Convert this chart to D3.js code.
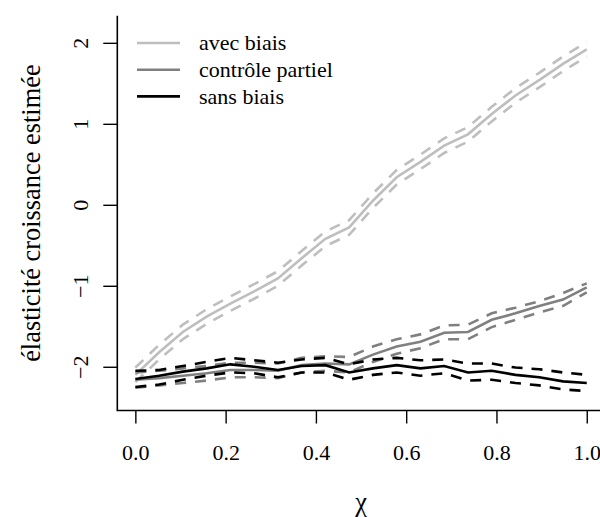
<!DOCTYPE html>
<html>
<head>
<meta charset="utf-8">
<script src="https://cdn.jsdelivr.net/npm/d3@7"></script>
<style>
  body { margin: 0; background: #fff; }
</style>
</head>
<body>
<svg id="chart"></svg>
<script>
// Points along chi (20 steps from 0 to 1)
var chi = d3.range(20).map(function (k) { return k / 19; });

// Estimated elasticity, each with lower / upper band
var avecBiais      = [-2.10, -1.82, -1.57, -1.38, -1.22, -1.07, -0.91, -0.66, -0.42, -0.28, 0.05, 0.34, 0.53, 0.73, 0.87, 1.12, 1.35, 1.54, 1.74, 1.92];
var avecBiaisHaut  = [-2.01, -1.73, -1.48, -1.29, -1.13, -0.98, -0.82, -0.57, -0.33, -0.19, 0.14, 0.43, 0.62, 0.82, 0.96, 1.21, 1.44, 1.63, 1.83, 2.01];
var avecBiaisBas   = [-2.19, -1.91, -1.66, -1.47, -1.31, -1.16, -1.00, -0.75, -0.51, -0.37, -0.04, 0.25, 0.44, 0.64, 0.78, 1.03, 1.26, 1.45, 1.65, 1.83];

var partiel        = [-2.16, -2.14, -2.11, -2.08, -2.04, -2.04, -2.05, -1.98, -1.96, -1.97, -1.85, -1.75, -1.69, -1.58, -1.57, -1.42, -1.34, -1.25, -1.17, -1.02];
var partielHaut    = [-2.07, -2.05, -2.02, -1.99, -1.95, -1.95, -1.96, -1.89, -1.87, -1.88, -1.75, -1.66, -1.60, -1.49, -1.48, -1.34, -1.27, -1.19, -1.09, -0.97];
var partielBas     = [-2.26, -2.23, -2.20, -2.17, -2.13, -2.13, -2.14, -2.07, -2.05, -2.07, -1.94, -1.84, -1.77, -1.66, -1.66, -1.51, -1.42, -1.33, -1.25, -1.08];

var sansBiais      = [-2.15, -2.11, -2.06, -2.02, -1.97, -2.00, -2.04, -1.99, -1.98, -2.07, -2.02, -1.98, -2.02, -1.99, -2.07, -2.05, -2.10, -2.13, -2.18, -2.20];
var sansBiaisHaut  = [-2.05, -2.04, -1.99, -1.94, -1.89, -1.92, -1.95, -1.91, -1.89, -1.97, -1.91, -1.89, -1.92, -1.91, -1.96, -1.96, -2.01, -2.03, -2.07, -2.10];
var sansBiaisBas   = [-2.25, -2.22, -2.16, -2.11, -2.07, -2.08, -2.13, -2.07, -2.07, -2.16, -2.10, -2.07, -2.11, -2.08, -2.17, -2.16, -2.20, -2.23, -2.28, -2.30];

var legendLabels = ["avec biais", "contrôle partiel", "sans biais"];
var couleurs = ["#bebebe", "#808080", "#000000"];
var xTicks = [0, 0.2, 0.4, 0.6, 0.8, 1.0];
var yTicks = [-2, -1, 0, 1, 2];

var width = 600, height = 517;
var serif = "Liberation Serif";

var svg = d3.select("#chart")
  .attr("width", width)
  .attr("height", height);

var x = d3.scaleLinear().domain([-0.04, 1.04]).range([117.3, 604.8]);
var y = d3.scaleLinear().domain([-2.54, 2.335]).range([410.5, 15.7]);

// L-shaped box
svg.append("path")
  .attr("d", "M" + x(-0.04) + "," + y(2.335) + "V" + y(-2.54) + "H" + width)
  .attr("fill", "none")
  .attr("stroke", "#000")
  .attr("stroke-width", 1.6);

// Axes
var xAxis = svg.append("g")
  .attr("transform", "translate(0," + y(-2.54) + ")")
  .call(d3.axisBottom(x).tickValues(xTicks).tickSize(13).tickFormat(d3.format(".1f")))
  .attr("font-family", serif)
  .attr("font-size", 22);
xAxis.select(".domain").remove();
xAxis.selectAll("line").attr("stroke-width", 1.4);
xAxis.selectAll("text")
  .attr("y", 49)
  .attr("dy", 0);

var yAxis = svg.append("g")
  .attr("transform", "translate(" + x(-0.04) + ",0)")
  .call(d3.axisLeft(y).tickValues(yTicks).tickSize(14).tickFormat(function (d) { return d < 0 ? "\u2212" + (-d) : String(d); }))
  .attr("font-family", serif)
  .attr("font-size", 22);
yAxis.select(".domain").remove();
yAxis.selectAll("line").attr("stroke-width", 1.4);
yAxis.selectAll("text")
  .attr("transform", "rotate(-90)")
  .attr("x", 0)
  .attr("y", -29)
  .attr("dy", 0)
  .attr("text-anchor", "middle");

// Axis titles (slightly larger, like cex.lab = 1.2)
svg.append("text")
  .attr("transform", "translate(39.5," + (y(2.335) + y(-2.54)) / 2 + ") rotate(-90)")
  .attr("text-anchor", "middle")
  .attr("font-family", serif)
  .attr("font-size", 26.4)
  .text("élasticité croissance estimée");

svg.append("text")
  .attr("x", (x(0) + x(1)) / 2)
  .attr("y", 511)
  .attr("text-anchor", "middle")
  .attr("font-family", serif)
  .attr("font-size", 26.4)
  .text("χ");

// Series
var series = [
  { mid: avecBiais, hi: avecBiaisHaut, lo: avecBiaisBas },
  { mid: partiel, hi: partielHaut, lo: partielBas },
  { mid: sansBiais, hi: sansBiaisHaut, lo: sansBiaisBas }
];

var line = d3.line()
  .x(function (d, i) { return x(chi[i]); })
  .y(function (d) { return y(d); });

series.forEach(function (s, i) {
  [s.hi, s.lo].forEach(function (band) {
    svg.append("path")
      .attr("d", line(band))
      .attr("fill", "none")
      .attr("stroke", couleurs[i])
      .attr("stroke-width", 2.6)
      .attr("stroke-dasharray", "11,9");
  });
  svg.append("path")
    .attr("d", line(s.mid))
    .attr("fill", "none")
    .attr("stroke", couleurs[i])
    .attr("stroke-width", 2.6);
});

// Legend
var legend = svg.append("g")
  .attr("font-family", serif)
  .attr("font-size", 22);
legendLabels.forEach(function (lab, i) {
  var ly = 43 + i * 26.7;
  legend.append("line")
    .attr("x1", 137).attr("x2", 180)
    .attr("y1", ly).attr("y2", ly)
    .attr("stroke", couleurs[i])
    .attr("stroke-width", 2.6);
  legend.append("text")
    .attr("x", 199)
    .attr("y", ly)
    .attr("dy", "0.34em")
    .text(lab);
});
</script>
</body>
</html>
